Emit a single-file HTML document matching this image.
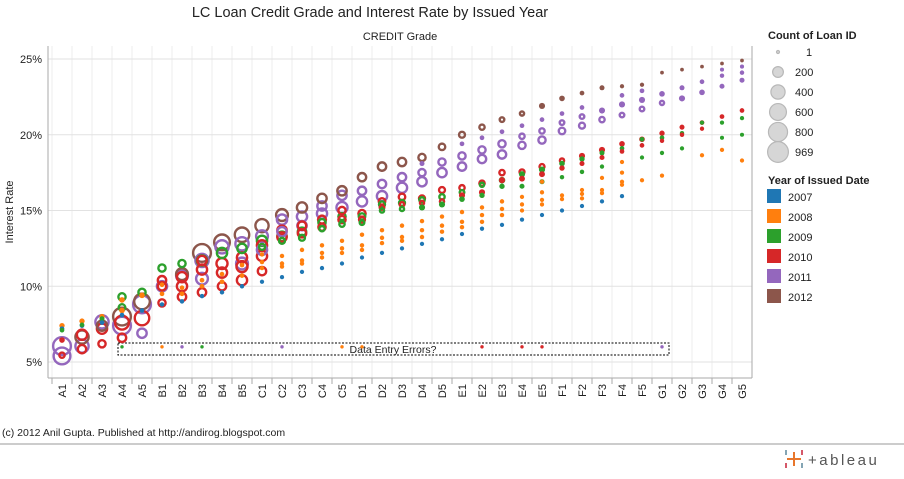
<!DOCTYPE html>
<html><head><meta charset="utf-8"><style>
body{margin:0;background:#fff;font-family:"Liberation Sans",sans-serif;}
svg text{font-family:"Liberation Sans",sans-serif;}
</style></head><body>
<svg id="chart" width="904" height="474" viewBox="0 0 904 474" xmlns="http://www.w3.org/2000/svg">
<text x="370" y="17" font-size="14.5" text-anchor="middle" fill="#222">LC Loan Credit Grade and Interest Rate by Issued Year</text>
<text x="400" y="40" font-size="11" text-anchor="middle" fill="#222">CREDIT Grade</text>
<text transform="translate(13,212) rotate(-90)" font-size="11" text-anchor="middle" fill="#222">Interest Rate</text>
<g id="grid"></g>
<g id="ticks"></g>
<rect x="118" y="343" width="551" height="12" fill="none" stroke="#000" stroke-width="1" stroke-dasharray="2,1.5"/>
<text x="393" y="353" font-size="10.5" text-anchor="middle" fill="#222">Data Entry Errors?</text>
<g id="marks"></g>
<text x="768" y="39" font-size="11" font-weight="bold" fill="#222">Count of Loan ID</text>
<g id="sizeleg"></g>
<text x="768" y="184" font-size="11" font-weight="bold" fill="#222">Year of Issued Date</text>
<g id="colorleg"></g>
<text x="2" y="436" font-size="10.5" fill="#222">(c) 2012 Anil Gupta. Published at http://andirog.blogspot.com</text>
<line x1="0" y1="444" x2="904" y2="444" stroke="#999" stroke-width="1"/>
<g>
<g stroke="#e8762b" stroke-width="2"><line x1="794" y1="452" x2="794" y2="466"/><line x1="787" y1="459" x2="801" y2="459"/></g>
<g stroke="#5b879b" stroke-width="1.5"><line x1="786" y1="450" x2="786" y2="455"/><line x1="802" y1="463" x2="802" y2="468"/></g>
<g stroke="#c72037" stroke-width="1.5"><line x1="802" y1="450" x2="802" y2="455"/><line x1="786" y1="463" x2="786" y2="468"/></g>
<text x="808" y="465" font-size="15" letter-spacing="2.5" fill="#555">+ableau</text>
</g>
</svg>
<script>
const grades=["A1","A2","A3","A4","A5","B1","B2","B3","B4","B5","C1","C2","C3","C4","C5","D1","D2","D3","D4","D5","E1","E2","E3","E4","E5","F1","F2","F3","F4","F5","G1","G2","G3","G4","G5"];
const yTicks=[5,10,15,20,25];
const years=["2007","2008","2009","2010","2011","2012"];
const colors=["#1f77b4","#ff7f0e","#2ca02c","#d62728","#9467bd","#8c564b"];
const sizeLegendValues=[1,200,400,600,800,969];

const g2007=["A1","A2","A3","A4","A5","B1","B2","B3","B4","B5","C1","C2","C3","C4","C5","D1","D2","D3","D4","D5","E1","E2","E3","E4","E5","F1","F2","F3","F4"];
const r2007=[7.2,7.4,7.6,8.1,8.4,8.8,9.0,9.35,9.6,10.0,10.3,10.6,10.95,11.2,11.5,11.9,12.2,12.5,12.8,13.1,13.45,13.8,14.05,14.4,14.7,15.0,15.3,15.6,15.95];
const c2007=[15,15,15,15,15,12,12,12,12,12,10,10,10,10,10,10,10,10,10,10,10,10,10,10,10,10,10,10,10];

const g2008=["A1","A2","A3","A4","A4","A5","B1","B1","B1","B2","B2","B3","B3","B4","B4","B5","B5","C1","C1","C1","C2","C2","C2","C3","C3","C3","C4","C4","C4","C5","C5","C5","C5","D1","D1","D1","D1","D2","D2","D2","D3","D3","D3","D4","D4","D4","D5","D5","D5","E1","E1","E1","E2","E2","E2","E3","E3","E3","E4","E4","E4","E5","E5","E5","E5","F1","F1","F2","F2","F2","F3","F3","F3","F4","F4","F4","F4","F5","G1","G3","G4","G5"];
const r2008=[7.4,7.7,8.0,9.1,8.4,9.4,10.1,9.5,6.0,9.9,9.5,10.4,10.0,10.8,10.3,11.4,10.7,12.1,11.6,11.2,12.0,11.5,11.3,12.4,11.7,11.5,12.7,12.2,11.9,13.0,12.5,12.2,6.0,13.4,12.7,12.4,6.0,13.7,13.2,12.85,14.0,13.25,13.0,14.3,13.7,13.25,14.6,14.0,13.6,14.9,14.25,13.9,15.2,14.7,14.25,15.6,15.1,14.7,15.9,15.4,15.0,16.9,16.2,15.7,15.4,16.0,15.75,16.35,16.1,15.8,17.15,16.35,16.15,18.2,17.5,16.9,16.7,17.0,17.3,18.65,19.0,18.3];
const c2008=[25,25,25,30,30,30,15,15,3,15,15,15,15,15,15,15,15,12,12,12,12,12,12,12,12,12,12,12,12,12,12,12,3,12,12,12,3,12,12,12,12,12,12,12,12,12,12,12,12,12,12,12,12,12,12,12,12,12,10,10,10,10,10,10,10,10,10,10,10,10,10,10,10,10,10,10,10,10,10,10,10,10];

const g2009=["A1","A2","A3","A4","A4","A4","A5","B1","B2","B3","B3","B4","B5","C1","C1","C2","C2","C3","C3","C4","C4","C5","C5","D1","D1","D2","D2","D3","D3","D4","D4","D5","D5","E1","E1","E2","E2","E3","E3","E4","E4","E5","E5","F1","F1","F2","F2","F3","F3","F4","F5","F5","G1","G1","G2","G2","G3","G4","G4","G5","G5"];
const r2009=[7.1,7.45,7.85,9.3,8.6,6.0,9.6,11.2,11.5,11.7,6.0,12.2,12.5,13.0,12.6,13.3,13.0,13.6,13.2,14.2,13.8,14.6,14.1,14.6,14.2,15.4,15.0,15.5,15.1,15.7,15.2,15.9,15.4,16.2,15.75,16.7,16.0,17.0,16.6,17.4,16.6,17.7,16.9,18.1,17.2,18.4,17.55,18.8,17.9,19.1,19.7,18.5,19.8,18.8,20.1,19.1,20.8,20.8,19.8,21.1,20.0];
const c2009=[15,15,20,150,120,3,150,150,150,300,3,300,250,300,100,250,100,200,100,150,80,150,80,120,60,100,50,100,50,80,40,80,40,60,30,50,25,50,25,40,20,40,20,30,12,25,12,20,10,15,15,10,15,10,12,10,10,10,8,10,8];

const g2010=["A1","A1","A2","A2","A3","A3","A4","A4","A5","B1","B1","B1","B2","B2","B2","B3","B3","B3","B4","B4","B4","B5","B5","B5","C1","C1","C1","C2","C2","C3","C3","C4","C4","C5","C5","D1","D1","D2","D2","D3","D3","D4","D4","D5","D5","E1","E1","E2","E2","E2","E3","E3","E4","E4","E4","E5","E5","E5","F1","F1","F2","F2","F3","F3","F4","F4","F5","F5","G1","G1","G2","G2","G3","G3","G4","G5"];
const r2010=[6.45,5.45,6.8,5.85,7.2,6.2,7.6,6.6,7.9,10.4,10.0,8.9,10.6,10.0,9.3,11.7,11.1,9.6,11.5,10.9,10.0,11.9,11.3,10.4,12.7,12.0,11.0,13.7,13.25,14.0,13.5,14.4,13.9,15.0,14.4,14.8,14.4,15.6,15.2,15.9,15.4,15.8,15.5,16.35,15.6,16.5,16.0,16.8,16.2,6.0,17.5,17.0,17.55,17.1,6.0,17.9,17.4,6.0,18.3,17.8,18.6,18.1,19.0,18.5,19.4,18.9,19.7,19.3,20.1,19.6,20.5,20.0,20.8,20.4,21.2,21.6];
const c2010=[30,80,300,200,300,150,550,200,600,200,200,150,300,300,200,250,300,200,350,300,200,300,350,300,300,300,200,250,250,200,200,180,150,150,150,150,100,120,60,120,60,100,50,100,50,80,40,80,40,3,80,40,70,35,3,70,35,3,50,25,40,20,40,20,30,15,30,15,25,12,20,12,15,10,15,15];

const g2011=["A1","A1","A2","A3","A4","A5","A5","B1","B2","B2","B3","B3","B4","B5","B5","C1","C1","C2","C2","C2","C3","C3","C4","C4","C5","C5","D1","D1","D2","D2","D3","D3","D4","D4","D4","D5","D5","E1","E1","E1","E2","E2","E2","E3","E3","E3","E4","E4","E4","E5","E5","E5","F1","F1","F1","F2","F2","F2","F3","F3","F4","F4","F4","F5","F5","F5","G1","G1","G1","G2","G2","G3","G3","G4","G4","G4","G5","G5","G5"];
const r2011=[6.05,5.4,6.05,7.65,7.4,8.8,6.9,10.0,10.7,6.0,11.7,10.5,12.6,12.8,11.5,13.3,12.4,14.4,13.6,6.0,14.6,14.0,15.3,14.8,16.0,15.2,16.3,15.6,16.75,15.95,17.2,16.5,18.1,17.5,16.9,18.2,17.5,19.4,18.6,17.9,19.8,19.0,18.4,20.2,19.4,18.7,20.6,19.9,19.3,21.0,20.25,19.65,21.4,20.8,20.25,21.8,21.2,20.6,21.6,21.0,22.6,22.0,21.3,22.9,22.3,21.7,22.7,22.1,6.0,23.1,22.4,23.5,22.8,24.3,23.9,23.2,24.5,24.1,23.6];
const c2011=[900,800,500,500,900,900,250,300,400,3,500,400,500,500,400,400,300,300,250,3,300,250,250,300,250,350,200,300,200,300,200,300,20,150,250,150,250,15,150,200,15,150,200,15,150,200,15,80,150,15,80,150,15,60,120,15,60,100,40,80,15,40,60,15,40,60,30,50,3,20,40,15,30,8,12,20,8,12,20];

const g2012=["A2","A3","A4","A5","B2","B3","B4","B5","C1","C2","C3","C4","C5","D1","D2","D3","D4","D5","E1","E2","E3","E4","E5","F1","F2","F3","F4","F5","G1","G2","G3","G4","G5"];
const r2012=[6.65,7.4,8.0,9.0,10.8,12.2,12.9,13.4,14.0,14.7,15.2,15.8,16.3,17.2,17.9,18.2,18.5,19.2,20.0,20.5,21.0,21.4,21.9,22.4,22.75,23.1,23.2,23.3,24.1,24.3,24.5,24.7,24.9];
const c2012=[500,300,900,700,400,900,700,600,500,400,300,250,250,200,200,200,150,120,100,80,60,50,40,30,15,20,10,10,5,5,5,5,5];

const NS="http://www.w3.org/2000/svg";
const X0=62,XSTEP=20,YBASE=362,YPER=15.15;
function xScale(g){return X0+grades.indexOf(g)*XSTEP;}
function yScale(v){return YBASE-(v-5)*YPER;}
function rScale(c){return 1.2+Math.sqrt(c/969)*9.2;}
function mk(tag,attrs,parent){const e=document.createElementNS(NS,tag);for(const k in attrs)e.setAttribute(k,attrs[k]);parent.appendChild(e);return e;}

const grid=document.getElementById('grid');
const ticks=document.getElementById('ticks');
for(let i=0;i<=grades.length;i++){
  const x=X0-10+i*XSTEP;
  const l=mk('line',{x1:x,y1:46,x2:x,y2:378,stroke:'#ececec','stroke-width':1},grid);
  
  
}
yTicks.forEach(v=>{
  const y=yScale(v);
  const l=mk('line',{x1:48,y1:y,x2:752,y2:y,stroke:'#e2e2e2','stroke-width':1},grid);
  
  
  const t=mk('text',{x:42,y:y+4,'font-size':11,'text-anchor':'end',fill:'#222'},ticks);
  t.textContent=v+'%';
  
  
});
mk('line',{x1:48,y1:46,x2:48,y2:378,stroke:'#aaa','stroke-width':1},ticks);
mk('line',{x1:48,y1:378,x2:752,y2:378,stroke:'#aaa','stroke-width':1},ticks);
mk('line',{x1:752,y1:46,x2:752,y2:378,stroke:'#aaa','stroke-width':1},ticks);
grades.forEach(g=>{
  const x=xScale(g);
  mk('line',{x1:x-10,y1:378,x2:x-10,y2:384,stroke:'#aaa'},ticks);
  const t=mk('text',{transform:`translate(${x+4},384) rotate(-90)`,'font-size':11,'text-anchor':'end',fill:'#222'},ticks);
  t.textContent=g;
  
  
});

const series=[[g2007,r2007,c2007],[g2008,r2008,c2008],[g2009,r2009,c2009],[g2010,r2010,c2010],[g2011,r2011,c2011],[g2012,r2012,c2012]];
const pts=[];
series.forEach((s,si)=>{s[0].forEach((g,i)=>pts.push({g:g,r:s[1][i],c:s[2][i],si:si}));});
pts.sort((a,b)=>b.c-a.c);
const marks=document.getElementById('marks');
pts.forEach(p=>{
  const rad=rScale(p.c);
  const col=colors[p.si];
  let el;
  if(rad<3.2){el=mk('circle',{cx:xScale(p.g),cy:yScale(p.r),r:rad,fill:col},marks);}
  else{el=mk('circle',{cx:xScale(p.g),cy:yScale(p.r),r:rad-1.2,fill:'none',stroke:col,'stroke-width':2.4},marks);}
  
  
});

const sl=document.getElementById('sizeleg');
sizeLegendValues.forEach((v,i)=>{
  const y=52+i*20;
  const c=mk('circle',{cx:778,cy:y,r:v<10?1.5:rScale(v),fill:'#d6d6d6',stroke:'#b8b8b8','stroke-width':1.2},sl);
  
  
  const t=mk('text',{x:795,y:y+4,'font-size':11,fill:'#222'},sl);
  if(v===1){t.setAttribute('x',806);}
  t.textContent=v;
  
  
});
const cl=document.getElementById('colorleg');
years.forEach((yr,i)=>{
  const y=189+i*20;
  const r=mk('rect',{x:767,y:y,width:14,height:14,fill:colors[i]},cl);
  
  
  const t=mk('text',{x:788,y:y+12,'font-size':11,fill:'#222'},cl);
  t.textContent=yr;
  
  
});
</script>
</body></html>
